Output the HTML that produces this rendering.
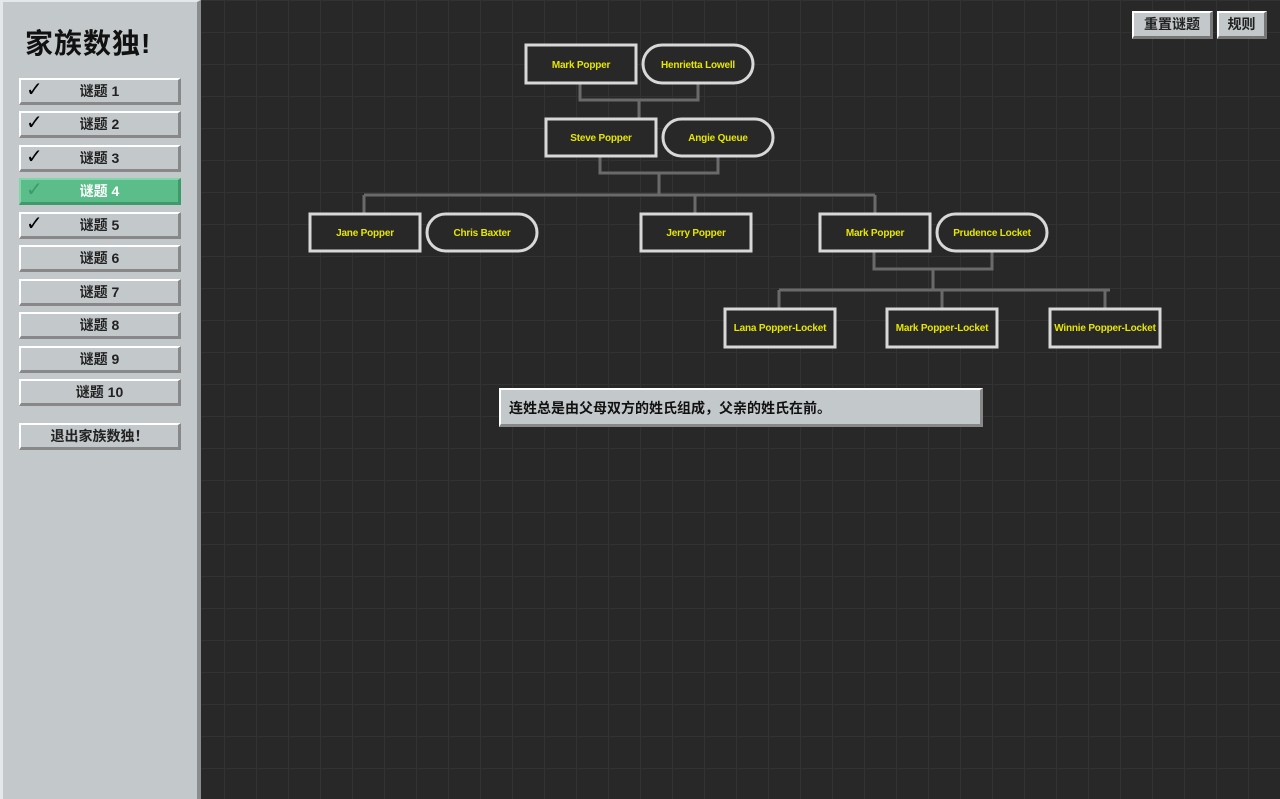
<!DOCTYPE html>
<html><head><meta charset="utf-8"><style>
body{margin:0;width:1280px;height:799px;overflow:hidden;background:#282828;font-family:"Liberation Sans","Noto Sans CJK SC",sans-serif;position:relative}
.grid{position:absolute;left:0;top:0;width:1280px;height:799px;background-image:linear-gradient(#323232 1px,transparent 1px),linear-gradient(90deg,#323232 1px,transparent 1px);background-size:32px 32px;background-position:0 0}
.side{position:absolute;left:0;top:0;background:#c3c8ca;border-left:3px solid #e4e8ea;border-top:2px solid #e4e8ea;border-right:4px solid #8a8d8f;box-sizing:border-box;width:201px;height:799px}
h1{position:absolute;left:25px;top:22px;margin:0;font-size:28px;font-weight:bold;color:#111;letter-spacing:1px}
.b{position:absolute;left:19px;width:162px;height:27px;box-sizing:border-box;background:#c3c8ca;border-top:2px solid #fff;border-left:2px solid #fff;border-bottom:3px solid #888;border-right:3px solid #888;font-size:14px;font-weight:bold;color:#222;text-align:center;line-height:22px}
.b .c{position:absolute;left:5px;top:-2px;font-size:20px;font-weight:bold;font-family:"DejaVu Sans",sans-serif;color:#000}
.g{background:#5bbd8a;border-top-color:#80d6a8;border-left-color:#80d6a8;border-bottom-color:#3d9a6a;border-right-color:#3d9a6a;color:#fff}
.g .c{color:#3c9a68}
.tb{position:absolute;top:11px;height:28px;box-sizing:border-box;background:#c3c8ca;border-top:2px solid #fff;border-left:2px solid #fff;border-bottom:3px solid #777;border-right:3px solid #777;font-size:14px;font-weight:bold;color:#222;text-align:center;line-height:23px}
.msg{position:absolute;left:499px;top:388px;width:484px;height:39px;box-sizing:border-box;background:#c3c8ca;border-top:2px solid #fff;border-left:2px solid #fff;border-bottom:3px solid #888;border-right:3px solid #888;font-size:14px;font-weight:bold;color:#111;padding-left:8px;line-height:36px}
svg{position:absolute;left:0;top:0}
</style></head><body>
<div class="grid"></div>
<div class="side"></div>
<h1>家族数独!</h1>
<div class="b" style="top:78px"><span class="c">✓</span>谜题 1</div>
<div class="b" style="top:111px"><span class="c">✓</span>谜题 2</div>
<div class="b" style="top:145px"><span class="c">✓</span>谜题 3</div>
<div class="b g" style="top:178px"><span class="c">✓</span>谜题 4</div>
<div class="b" style="top:212px"><span class="c">✓</span>谜题 5</div>
<div class="b" style="top:245px">谜题 6</div>
<div class="b" style="top:279px">谜题 7</div>
<div class="b" style="top:312px">谜题 8</div>
<div class="b" style="top:346px">谜题 9</div>
<div class="b" style="top:379px">谜题 10</div>
<div class="b" style="top:423px">退出家族数独！</div>
<div class="tb" style="left:1132px;width:81px">重置谜题</div>
<div class="tb" style="left:1217px;width:50px">规则</div>
<svg width="1280" height="799">
<g stroke="#6a6a6a" stroke-width="3" fill="none">
<path d="M580 83V100H698V83M639 100V118"/>
<path d="M600 156V173H718V156M659 173V195M364 195H875M364 195V213M695 195V213M875 195V213"/>
<path d="M874 251V269H992V251M933 269V290M779 290H1110M779 290V308M942 290V308M1105 290V308"/>
</g>
<g stroke="#d8d8d8" stroke-width="3" fill="#282828">
<rect x="526" y="45" width="110" height="38"/>
<rect x="643" y="45" width="110" height="38" rx="19"/>
<rect x="546" y="119" width="110" height="37"/>
<rect x="663" y="119" width="110" height="37" rx="18.5"/>
<rect x="310" y="214" width="110" height="37"/>
<rect x="427" y="214" width="110" height="37" rx="18.5"/>
<rect x="641" y="214" width="110" height="37"/>
<rect x="820" y="214" width="110" height="37"/>
<rect x="937" y="214" width="110" height="37" rx="18.5"/>
<rect x="725" y="309" width="110" height="38"/>
<rect x="887" y="309" width="110" height="38"/>
<rect x="1050" y="309" width="110" height="38"/>
</g>
<g fill="#e6e600" font-size="10" font-weight="bold" text-anchor="middle" font-family="Liberation Sans,sans-serif" letter-spacing="-0.2">
<text x="581" y="68">Mark Popper</text>
<text x="698" y="68">Henrietta Lowell</text>
<text x="601" y="141">Steve Popper</text>
<text x="718" y="141">Angie Queue</text>
<text x="365" y="236">Jane Popper</text>
<text x="482" y="236">Chris Baxter</text>
<text x="696" y="236">Jerry Popper</text>
<text x="875" y="236">Mark Popper</text>
<text x="992" y="236">Prudence Locket</text>
<text x="780" y="331">Lana Popper-Locket</text>
<text x="942" y="331">Mark Popper-Locket</text>
<text x="1105" y="331">Winnie Popper-Locket</text>
</g>
</svg>
<div class="msg">连姓总是由父母双方的姓氏组成，父亲的姓氏在前。</div>
</body></html>
